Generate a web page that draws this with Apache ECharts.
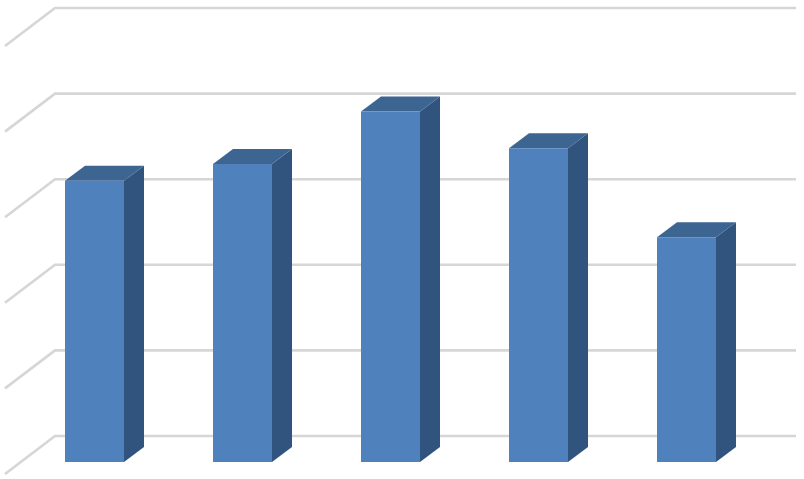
<!DOCTYPE html>
<html><head><meta charset="utf-8">
<style>html,body{margin:0;padding:0;background:#fff}#c{width:804px;height:479px}</style>
<script src="https://cdn.jsdelivr.net/npm/echarts@6/dist/echarts.min.js"></script>
</head><body><div id="c"></div>
<script>
const categories = ['1','2','3','4','5'];
const values = [3.285, 3.48, 4.095, 3.665, 2.625];
const gridTicks = [0, 1, 2, 3, 4, 5];

const chart = echarts.init(document.getElementById('c'), null, {renderer:'canvas'});
const FRONT='#4F81BD', SIDE='#31547E', TOP='#3D6592', GRID='#D6D6D6';
const barW=59, depthX=20, depthY=15, wallX=35, wallY=26, sideX=50, sideY=38;

function renderWall(params, api){
  const p = api.coord([0, api.value(0)]);
  const y = p[1]-wallY;
  const x0 = params.coordSys.x+wallX-0.5;
  const x1 = x0+741;
  return {type:'polyline', shape:{points:[[x0-sideX,y+sideY],[x0,y],[x1,y]]},
    style:{stroke:GRID,lineWidth:2.6,fill:null}, silent:true};
}
function renderBar(params, api){
  const top = api.coord([api.value(0), api.value(1)]);
  const base = api.coord([api.value(0), 0]);
  const l=top[0]-barW/2, r=top[0]+barW/2, t=top[1], b=base[1];
  return {type:'group', children:[
    {type:'polygon',shape:{points:[[r,t],[r+depthX,t-depthY],[r+depthX,b-depthY],[r,b]]},style:{fill:SIDE}},
    {type:'polygon',shape:{points:[[l,t],[l+depthX,t-depthY],[r+depthX,t-depthY],[r,t]]},style:{fill:TOP}},
    {type:'rect',shape:{x:l,y:t,width:barW,height:b-t},style:{fill:FRONT}}
  ]};
}
chart.setOption({
  animation:false,
  backgroundColor:'#fff',
  grid:{left:20.5,top:34,width:740,height:428},
  xAxis:{type:'category',data:categories,show:false},
  yAxis:{type:'value',min:0,max:5,interval:1,show:false},
  series:[
    {type:'custom',renderItem:renderWall,data:gridTicks.map(v=>[v]),encode:{y:0},z:1,clip:false},
    {type:'custom',renderItem:renderBar,data:values.map((v,i)=>[i,v]),encode:{x:0,y:1},z:2,clip:false}
  ]
});
</script></body></html>
